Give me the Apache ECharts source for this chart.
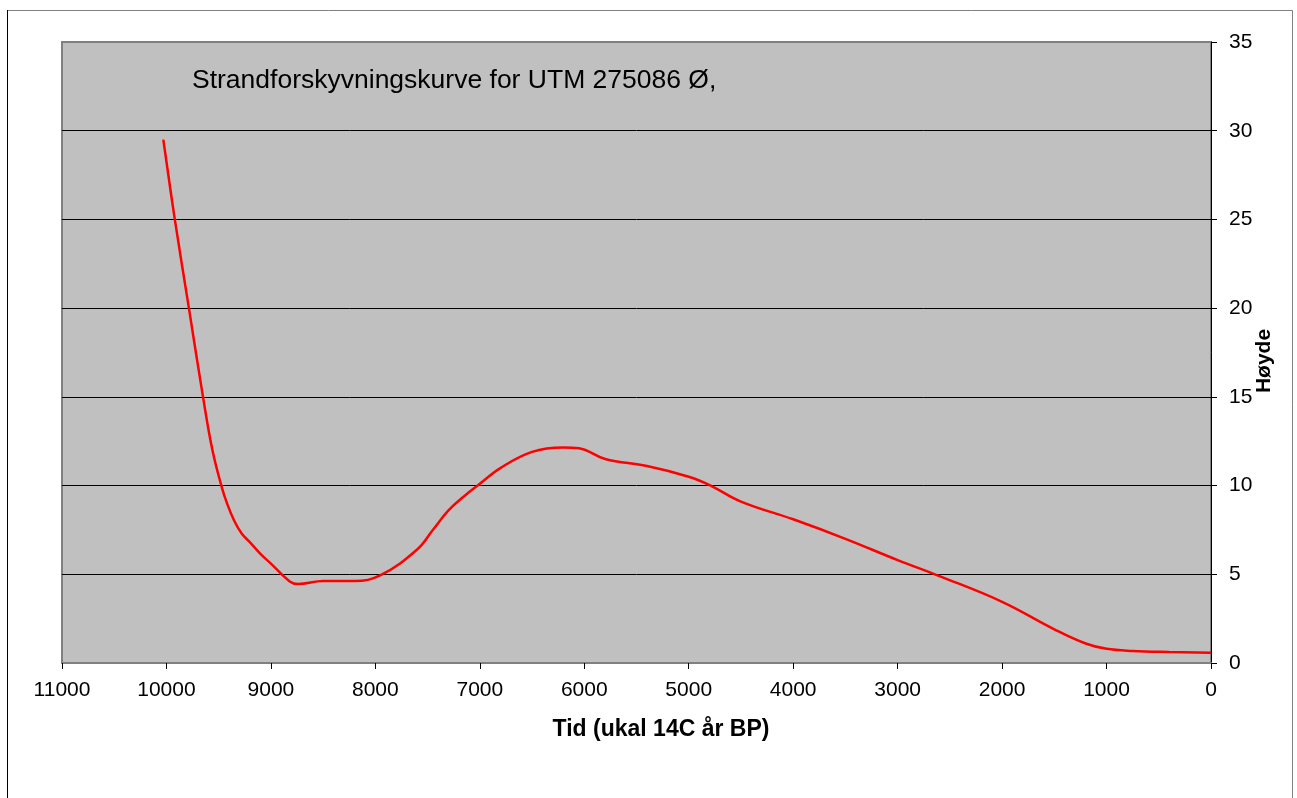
<!DOCTYPE html>
<html>
<head>
<meta charset="utf-8">
<title>Strandforskyvningskurve</title>
<script src="https://cdn.jsdelivr.net/npm/echarts@6/dist/echarts.min.js"></script>
<style>
    html, body { margin: 0; padding: 0; background: #fff; }
    #chart { width: 1297px; height: 798px; }
</style>
</head>
<body>
<div id="chart"></div>
<script>
// years BP (uncalibrated 14C) and height above sea level (m)
const years = [10030, 9920, 9785, 9650, 9560, 9470, 9420, 9350, 9280, 9200, 9100, 9000, 8820, 8740,
    8500, 8200, 7950, 7600, 7450, 7300, 7150, 7000, 6800, 6500, 6200, 6050, 5800, 5400, 5000,
    4800, 4500, 4000, 3500, 3000, 2600, 2000, 1500, 1200, 1000, 750, 400, 0];
const heights = [29.5, 25, 20, 15, 12, 9.9, 9.0, 8.0, 7.3, 6.8, 6.15, 5.6, 4.6, 4.45,
    4.62, 4.62, 4.95, 6.4, 7.5, 8.6, 9.4, 10.1, 11.0, 11.9, 12.15, 12.1, 11.5, 11.1, 10.5,
    10.03, 9.1, 8.1, 7.0, 5.8, 4.9, 3.45, 1.9, 1.1, 0.8, 0.68, 0.62, 0.58];
const xTicks = [0, 1000, 2000, 3000, 4000, 5000, 6000, 7000, 8000, 9000, 10000, 11000];

const chartTitle = 'Strandforskyvningskurve for UTM 275086 Ø,';
const xName = 'Tid (ukal 14C år BP)';
const yName = 'Høyde';

const font = 'Arial, "Liberation Sans", sans-serif';
const chart = echarts.init(document.getElementById('chart'));

chart.setOption({
    animation: false,
    textStyle: { fontFamily: font },
    title: {
        text: chartTitle,
        left: 192,
        top: 67,
        padding: 0,
        textStyle: { fontFamily: font, fontSize: 26.5, fontWeight: 'normal', color: '#000' },
    },
    graphic: [
        {
            type: 'rect',
            shape: { x: 7.5, y: 10.5, width: 1285, height: 900 },
            style: { fill: null, stroke: '#808080', lineWidth: 1 },
            silent: true,
        },
        {
            type: 'line',
            shape: { x1: 7.5, y1: 10, x2: 7.5, y2: 798 },
            style: { stroke: '#000', lineWidth: 1 },
            silent: true,
        },
        {
            // y axis title, rotated
            type: 'text',
            x: 1264,
            y: 361,
            rotation: Math.PI / 2,
            silent: true,
            style: {
                text: yName,
                fontFamily: font,
                fontSize: 21,
                fontWeight: 'bold',
                fill: '#000',
                align: 'center',
                verticalAlign: 'middle',
            },
        },
    ],
    grid: {
        left: 62,
        right: 86,
        top: 42,
        bottom: 135,
        show: true,
        backgroundColor: '#C0C0C0',
        borderColor: '#808080',
        borderWidth: 2,
    },
    xAxis: {
        type: 'value',
        inverse: true,
        min: xTicks[0],
        max: xTicks[xTicks.length - 1],
        interval: 1000,
        name: xName,
        nameLocation: 'middle',
        nameGap: 55,
        nameTextStyle: { fontFamily: font, fontSize: 23, fontWeight: 'bold', color: '#000', padding: [0, 0, 0, 49] },
        axisLine: { show: true, lineStyle: { color: '#808080', width: 2 } },
        axisTick: { show: true, inside: false, length: 6, lineStyle: { color: '#000' } },
        axisLabel: { fontFamily: font, fontSize: 21, color: '#000', margin: 17, formatter: (v) => String(v) },
        splitLine: { show: false },
    },
    yAxis: {
        type: 'value',
        position: 'right',
        min: 0,
        max: 35,
        interval: 5,
        axisLine: { show: true, lineStyle: { color: '#000', width: 1 } },
        axisTick: { show: true, inside: false, length: 6, lineStyle: { color: '#000' } },
        axisLabel: { fontFamily: font, fontSize: 21, color: '#000', margin: 18 },
        splitLine: { show: true, showMinLine: false, showMaxLine: false, lineStyle: { color: '#000', width: 1 } },
    },
    series: [
        {
            type: 'line',
            data: years.map((y, i) => [y, heights[i]]),
            smooth: 0.4,
            symbol: 'none',
            lineStyle: { color: '#FF0000', width: 2.5 },
        },
    ],
});
</script>
</body>
</html>
